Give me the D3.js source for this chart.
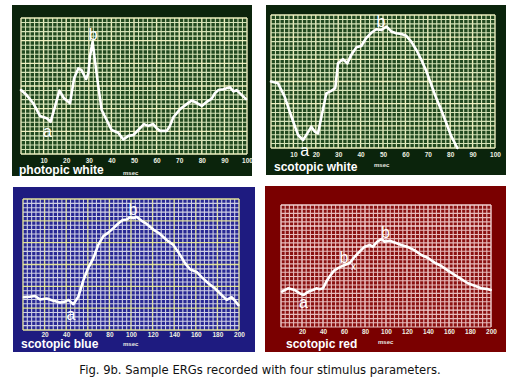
<!DOCTYPE html>
<html>
<head>
<meta charset="utf-8">
<script src="https://cdn.jsdelivr.net/npm/d3@7"></script>
<style>
  body { margin: 0; background: #fff; }
  svg { display: block; }
</style>
</head>
<body>
<div id="chart"></div>
<script>
// ERG traces, [msec, amplitude in grid rows above the bottom line]
var photopicWhite = [[0,14.1],[2.5,13.0],[5.4,11.2],[8.4,8.4],[11.4,7.9],[13.1,7.1],[15,10.4],[17,14.0],[19,12.3],
    [21.7,11.2],[23.5,16.7],[25.4,18.9],[26.8,18.5],[28.8,16.5],[29.8,17.8],[30.5,21.5],[31.7,24.8],[32.7,20.7],
    [34.2,14.9],[35.7,9.7],[37.9,7.5],[40.1,5.3],[43,4.7],[45.3,3.2],[47.5,4.0],[49.7,4.2],[51.9,5.3],[54.4,6.6],
    [56.3,6.2],[58.5,6.6],[60,5.7],[61.5,5.1],[64.5,5.1],[65.9,6.2],[67.4,8.1],[70.4,9.9],[73.3,11.0],[75.5,11.8],
    [77.7,11.3],[80,10.6],[82.2,11.5],[84.4,12.2],[85.8,13.4],[87.3,14.1],[89.5,14.3],[92.5,14.7],[94,13.8],
    [95.4,14.1],[97.7,13.0],[99.6,12.1]];
var scotopicWhite = [[0,15.0],[3.1,14.6],[6.1,11.6],[9.1,7.1],[12.1,2.9],[14.3,1.8],[16.2,3.3],[18,4.8],[19.5,3.7],
    [21,3.3],[22.8,7.8],[24.7,12.3],[26.9,12.9],[28.7,13.5],[29.9,19.1],[32.1,20.0],[34.1,19.1],[35.8,21.0],
    [38.1,22.7],[40.3,23.0],[42.5,24.8],[44.8,26.0],[47,26.8],[49.2,26.6],[51.5,27.4],[53.7,26.3],[55.9,25.9],
    [58.2,25.7],[60.4,25.3],[62.6,24.0],[64.9,22.1],[67.1,19.9],[69.3,17.4],[71.6,14.2],[73.8,11.2],[76,8.6],
    [78.3,5.6],[80.5,2.6],[83.2,0]];
var scotopicBlue = [[0.9,7.5],[6.5,7.6],[11.1,7.8],[15.7,7.0],[21.9,7.2],[28.1,6.7],[34.3,6.3],[38.9,6.5],[42,6.9],
    [46.6,5.9],[51.2,7.6],[55.9,11.4],[60.5,14.3],[65.1,16.4],[69.7,19.5],[74.4,21.5],[79,22.3],[83.6,23.3],
    [88.2,24.4],[92.3,25.2],[96,25.3],[99.1,25.8],[102.2,25.6],[105.3,25.9],[109.9,25.0],[114.5,24.3],[120.7,23.0],
    [126.9,22.0],[133,20.6],[139.2,19.5],[145.4,17.2],[150,15.3],[154.6,13.9],[160.8,13.3],[165.4,12.1],
    [171.6,10.7],[177.8,9.5],[184,8.0],[188.6,6.9],[193.2,7.5],[196.3,6.7],[199.4,5.7]];
var scotopicRed = [[1,8.4],[6.7,9.2],[13,8.8],[17.8,8.0],[21.6,7.6],[25.7,8.4],[30.5,8.8],[33.7,9.2],[36.8,9.0],
    [40,9.2],[43.2,10.8],[46.3,12.0],[50.5,13.4],[54.3,14.0],[57.5,14.4],[61.3,14.8],[65.4,15.2],[70.2,16.7],
    [74.9,17.9],[79.7,19.1],[84.4,19.5],[87.6,19.1],[91.7,20.3],[95.6,20.9],[98.7,20.3],[103.5,20.5],[108.3,20.1],
    [114.6,19.5],[121,19.0],[127.3,18.2],[133.7,17.1],[140,16.4],[146.3,15.3],[152.7,14.5],[159,13.4],[165.4,12.4],
    [171.7,11.4],[178,10.4],[184.4,9.8],[190.8,9.2],[197.1,9.0],[199.7,8.8]];

// a / b wave markers: [letter, msec, rows]
var photopicWhiteMarks = [["a",11.7,3.75],["b",31.9,25.2]];
var scotopicWhiteMarks = [["a",15.1,-1.9],["b",49.1,27.4]];
var scotopicBlueMarks  = [["a",44.4,2.3],["b",101.9,26.3]];
var scotopicRedMarks   = [["a",21.3,4.45],["b",60,15.2],["b",99.5,21.1]];

var ticks100 = [10,20,30,40,50,60,70,80,90,100];
var ticks200 = [20,40,60,80,100,120,140,160,180,200];
var titles = ["photopic white","scotopic white","scotopic blue","scotopic red"];
var caption = "Fig. 9b. Sample ERGs recorded with four stimulus parameters.";

var panels = [
    {bg:[12,5,252,176], grid:[21,18,247,154], xMax:100, rows:30, ticks:ticks100, pad:4,
     fill:"#0b240c", cell:"#21491f", line:"#d6e4b8", major:"#eef0c0",
     data:photopicWhite, marks:photopicWhiteMarks, title:titles[0], tpos:[19,174], mpos:[123,175]},
    {bg:[266,5,506,175], grid:[271,15,495,148], xMax:100, rows:30, ticks:ticks100, pad:4,
     fill:"#0b240c", cell:"#21491f", line:"#d6e4b8", major:"#eef0c0",
     data:scotopicWhite, marks:scotopicWhiteMarks, title:titles[1], tpos:[274,170.5], mpos:[374,167]},
    {bg:[13,187,255,352], grid:[23,199,239,330], xMax:200, rows:30, ticks:ticks200, pad:2,
     fill:"#1e1b80", cell:"#282894", line:"#cfcfe4", major:"#e2e29a",
     data:scotopicBlue, marks:scotopicBlueMarks, title:titles[2], tpos:[21,348], mpos:[123,346]},
    {bg:[265,186,506,352], grid:[281,205,491,327], xMax:200, rows:29, ticks:ticks200, pad:2.5,
     fill:"#7a0000", cell:"#8a1212", line:"#e8bcbc", major:"#f2d2d2",
     data:scotopicRed, marks:scotopicRedMarks, title:titles[3], tpos:[286,348], mpos:[378,344]}
];

var svg = d3.select("#chart").append("svg")
    .attr("width", 516)
    .attr("height", 387);

panels.forEach(function (p, k) {
    var g = svg.append("g");
    var x = d3.scaleLinear().domain([0, p.xMax]).range([p.grid[0], p.grid[2]]);
    var y = d3.scaleLinear().domain([0, p.rows]).range([p.grid[3], p.grid[1]]);

    g.append("rect")
        .attr("x", p.bg[0]).attr("y", p.bg[1])
        .attr("width", p.bg[2] - p.bg[0]).attr("height", p.bg[3] - p.bg[1])
        .attr("fill", p.fill);
    g.append("rect")
        .attr("x", p.grid[0]).attr("y", p.grid[1])
        .attr("width", p.grid[2] - p.grid[0]).attr("height", p.grid[3] - p.grid[1])
        .attr("fill", p.cell);

    // grid: 50 columns, major every 5
    var step = p.xMax / 50;
    var cols = d3.range(0, 51);
    var rows = d3.range(0, p.rows + 1);
    g.append("g").selectAll("line").data(cols).enter().append("line")
        .attr("x1", function (i) { return x(i * step); })
        .attr("x2", function (i) { return x(i * step); })
        .attr("y1", p.grid[1]).attr("y2", p.grid[3])
        .attr("stroke", function (i) { return i % 5 == 0 ? p.major : p.line; })
        .attr("stroke-width", function (i) { return i % 5 == 0 ? 1.4 : 1.1; });
    g.append("g").selectAll("line").data(rows).enter().append("line")
        .attr("y1", function (i) { return y(i); })
        .attr("y2", function (i) { return y(i); })
        .attr("x1", p.grid[0]).attr("x2", p.grid[2])
        .attr("stroke", function (i) { return (p.rows - i) % 5 == 0 ? p.major : p.line; })
        .attr("stroke-width", function (i) { return (p.rows - i) % 5 == 0 ? 1.4 : 1.1; });

    // tick labels
    var axis = g.append("g")
        .attr("transform", "translate(0," + p.grid[3] + ")")
        .call(d3.axisBottom(x).tickValues(p.ticks).tickSize(0).tickPadding(p.pad));
    axis.select(".domain").remove();
    axis.selectAll("text")
        .attr("fill", "#eef0e0")
        .style("font-family", "'Liberation Sans', Arial, sans-serif")
        .style("font-size", "6.5px")
        .style("font-weight", "bold");

    // trace
    var line = d3.line()
        .x(function (d) { return x(d[0]); })
        .y(function (d) { return y(d[1]); });
    g.append("path")
        .datum(p.data)
        .attr("d", line)
        .attr("fill", "none")
        .attr("stroke", "#fff")
        .attr("stroke-width", 2.6)
        .attr("stroke-linejoin", "round")
        .attr("stroke-linecap", "round");

    g.selectAll(".mark").data(p.marks).enter().append("text")
        .attr("x", function (d) { return x(d[1]); })
        .attr("y", function (d) { return y(d[2]); })
        .attr("text-anchor", "middle")
        .attr("fill", "#fff")
        .style("font-family", "'Liberation Sans', Arial, sans-serif")
        .style("font-size", "16px")
        .text(function (d) { return d[0]; });

    if (k == 3) {
        g.append("text")
            .attr("x", x(69)).attr("y", y(13.6))
            .attr("text-anchor", "middle")
            .attr("fill", "#fff")
            .style("font-family", "'Liberation Sans', Arial, sans-serif")
            .style("font-size", "10px")
            .text("x");
    }

    g.append("text")
        .attr("x", p.tpos[0]).attr("y", p.tpos[1])
        .attr("fill", "#fff")
        .style("font-family", "'Liberation Sans', Arial, sans-serif")
        .style("font-size", "12px")
        .style("font-weight", "bold")
        .text(p.title);
    g.append("text")
        .attr("x", p.mpos[0]).attr("y", p.mpos[1])
        .attr("fill", "#e8e8e0")
        .style("font-family", "'Liberation Sans', Arial, sans-serif")
        .style("font-size", "6px")
        .style("font-weight", "bold")
        .text("msec");
});

svg.append("text")
    .attr("x", 260).attr("y", 374)
    .attr("text-anchor", "middle")
    .attr("fill", "#111")
    .style("font-family", "'DejaVu Sans', sans-serif")
    .style("font-size", "11.6px")
    .text(caption);
</script>
</body>
</html>
